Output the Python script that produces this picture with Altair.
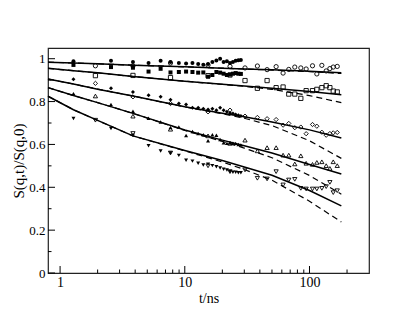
import altair as alt
import pandas as pd

# ---- data ----
SERIES = ["a", "b", "c", "d", "e"]
SHAPES = ["circle", "square", "diamond", "triangle-up", "triangle-down"]

FILLED_T = [1.28, 2.56, 3.84, 5.12, 6.4, 7.68, 8.96, 10.24, 11.52, 12.8, 14.08,
            15.36, 16.64, 17.92, 19.2, 20.48, 21.76, 23.04, 24.32, 25.6, 26.88, 28.16]
FILLED_A = [0.988, 0.99, 0.985, 0.98, 0.99, 0.985, 0.98, 0.978, 0.98, 0.975, 0.972,
            0.975, 0.985, 0.992, 1.0, 0.985, 0.988, 0.98, 0.985, 0.99, 0.993, 0.994]
FILLED_B = [0.971, 0.961, 0.958, 0.94, 0.953, 0.936, 0.938, 0.94, 0.938, 0.935, 0.936,
            0.916, 0.924, 0.938, 0.935, 0.93, 0.924, 0.926, 0.93, 0.933, 0.93, 0.929]
FILLED_C = [0.904, 0.862, 0.845, 0.829, 0.823, 0.809, 0.791, 0.786, 0.771, 0.771, 0.767,
            0.763, 0.767, 0.76, 0.771, 0.76, 0.753, 0.747, 0.744, 0.74, 0.736, 0.733]
FILLED_D = [0.837, 0.786, 0.755, 0.722, 0.705, 0.679, 0.681, 0.642, 0.66, 0.651, 0.645,
            0.617, 0.645, 0.643, 0.623, 0.608, 0.605, 0.608, 0.606, 0.605, 0.6, 0.597]
FILLED_E = [0.721, 0.674, 0.643, 0.594, 0.569, 0.56, 0.549, 0.526, 0.522, 0.512, 0.504,
            0.508, 0.501, 0.496, 0.49, 0.484, 0.481, 0.474, 0.47, 0.47, 0.468, 0.468]

OPEN_T = [1.92, 3.84, 7.68, 15.36, 23.04, 30.4, 38.2, 45.7, 54.0, 61.4, 68.2, 76.2,
          85.2, 94.0, 105.7, 114.5, 125.6, 136.1, 145.7, 155.0, 166.9]
OPEN_A = [0.967, 0.966, 0.98, 0.97, 0.964, 0.957, 0.966, 0.949, 0.963, 0.933, 0.95, 0.961,
          0.957, 0.952, 0.967, 0.929, 0.969, 0.943, 0.954, 0.961, 0.964]
OPEN_B = [0.921, 0.922, 0.912, 0.921, 0.924, 0.898, 0.862, 0.898, 0.865, 0.868, 0.835, 0.835,
          0.815, 0.851, 0.851, 0.857, 0.865, 0.874, 0.865, 0.849, 0.845]
OPEN_C = [0.885, 0.822, 0.791, 0.752, 0.76, 0.732, 0.726, 0.72, 0.716, 0.69, 0.698, 0.678,
          0.681, 0.65, 0.693, 0.685, 0.657, 0.643, 0.651, 0.654, 0.656]
OPEN_D = [0.826, 0.732, 0.671, 0.64, 0.605, 0.62, 0.57, 0.585, 0.585, 0.55, 0.55, 0.509,
          0.547, 0.512, 0.507, 0.516, 0.519, 0.501, 0.488, 0.519, 0.501]
OPEN_E = [0.713, 0.651, 0.56, 0.50, 0.473, 0.481, 0.442, 0.439, 0.473, 0.411, 0.434, 0.437,
          0.395, 0.392, 0.392, 0.392, 0.395, 0.403, 0.423, 0.375, 0.384]

CURVE_T = [0.8, 1.28, 2, 3.84, 10, 20, 30, 50, 100, 180]
SOLID_A = [0.984, 0.980, 0.976, 0.970, 0.962, 0.956, 0.952, 0.948, 0.941, 0.934]
SOLID_B = [0.955, 0.944, 0.934, 0.917, 0.895, 0.881, 0.873, 0.862, 0.847, 0.832]
SOLID_C = [0.905, 0.882, 0.858, 0.826, 0.776, 0.746, 0.729, 0.705, 0.668, 0.630]
SOLID_D = [0.865, 0.828, 0.795, 0.745, 0.667, 0.620, 0.594, 0.560, 0.506, 0.462]
SOLID_E = [0.825, 0.762, 0.712, 0.640, 0.572, 0.525, 0.495, 0.456, 0.385, 0.313]
DASH_A = [0.984, 0.980, 0.976, 0.970, 0.962, 0.956, 0.952, 0.947, 0.940, 0.931]
DASH_B = [0.955, 0.944, 0.934, 0.917, 0.895, 0.880, 0.871, 0.857, 0.828, 0.795]
DASH_C = [0.905, 0.882, 0.858, 0.826, 0.775, 0.743, 0.722, 0.688, 0.617, 0.535]
DASH_D = [0.865, 0.828, 0.795, 0.745, 0.665, 0.614, 0.583, 0.538, 0.455, 0.368]
DASH_E = [0.825, 0.762, 0.712, 0.640, 0.570, 0.518, 0.483, 0.433, 0.335, 0.238]

X_MAJOR = [1, 10, 100]
X_MINOR = [2, 3, 4, 5, 6, 7, 8, 9, 20, 30, 40, 50, 60, 70, 80, 90, 200]
Y_MAJOR = [0, 0.2, 0.4, 0.6, 0.8, 1.0]
Y_MINOR = [0.1, 0.3, 0.5, 0.7, 0.9]

# ---- build tables ----
def long(ts, cols):
    rows = []
    for s, vals in zip(SERIES, cols):
        for t, v in zip(ts, vals):
            rows.append({"t": t, "v": v, "s": s})
    return pd.DataFrame(rows)

filled = long(FILLED_T, [FILLED_A, FILLED_B, FILLED_C, FILLED_D, FILLED_E])
opened = long(OPEN_T, [OPEN_A, OPEN_B, OPEN_C, OPEN_D, OPEN_E])
solid = long(CURVE_T, [SOLID_A, SOLID_B, SOLID_C, SOLID_D, SOLID_E])
dashed = long(CURVE_T, [DASH_A, DASH_B, DASH_C, DASH_D, DASH_E])

W, H = 321, 225
SERIF = "Liberation Serif"

xscale = alt.Scale(type="log", domain=[0.8, 300], nice=False)
yscale = alt.Scale(domain=[0, 1.05], nice=False, zero=False)

xaxis = alt.Axis(values=X_MAJOR, format="~g", ticks=False, domain=False, grid=False,
                 labelFont=SERIF, labelFontSize=14, labelColor="black", labelPadding=2,
                 title="t/ns", titleFont=SERIF, titleFontSize=14, titleFontWeight="normal",
                 titleColor="black", titlePadding=2, labelFlush=False)
yaxis = alt.Axis(values=Y_MAJOR, format="~g", ticks=False, domain=False, grid=False,
                 labelFont=SERIF, labelFontSize=13, labelColor="black", labelPadding=3,
                 title="S(q,t)/S(q,0)", titleFont=SERIF, titleFontSize=15,
                 titleFontWeight="normal", titleColor="black", titlePadding=2,
                 labelFlush=False)

X = alt.X("t:Q", scale=xscale, axis=xaxis)
Y = alt.Y("v:Q", scale=yscale, axis=yaxis)
shape = alt.Shape("s:N", scale=alt.Scale(domain=SERIES, range=SHAPES), legend=None)

solid_l = alt.Chart(solid).mark_line(color="black", strokeWidth=1.5).encode(
    x=X, y=Y, detail="s:N")
dashed_l = alt.Chart(dashed).mark_line(color="black", strokeWidth=1.2,
                                       strokeDash=[6, 4]).encode(x=X, y=Y, detail="s:N")
filled_p = alt.Chart(filled).mark_point(filled=True, color="black", size=16,
                                        opacity=1).encode(x=X, y=Y, shape=shape)
open_p = alt.Chart(opened).mark_point(filled=False, color="black", size=18,
                                      strokeWidth=0.9, opacity=1).encode(x=X, y=Y, shape=shape)

xmaj = alt.Chart(pd.DataFrame({"t": X_MAJOR})).mark_rule(color="black").encode(
    x=X, y=alt.value(H), y2=alt.value(H - 7))
xmin = alt.Chart(pd.DataFrame({"t": X_MINOR})).mark_rule(color="black").encode(
    x=X, y=alt.value(H), y2=alt.value(H - 3.5))
ymaj = alt.Chart(pd.DataFrame({"v": Y_MAJOR})).mark_rule(color="black").encode(
    y=Y, x=alt.value(0), x2=alt.value(7))
ymin = alt.Chart(pd.DataFrame({"v": Y_MINOR})).mark_rule(color="black").encode(
    y=Y, x=alt.value(0), x2=alt.value(3.5))

chart = alt.layer(solid_l, dashed_l, filled_p, open_p, xmaj, xmin, ymaj, ymin).properties(
    width=W, height=H,
    autosize=alt.AutoSizeParams(type="none"),
    padding={"left": 40, "top": 40, "right": 38, "bottom": 40},
    background="white",
).configure_view(stroke="#222222", strokeWidth=1.2)

chart.save("out.html", embed_options={"renderer": "svg", "actions": False})
